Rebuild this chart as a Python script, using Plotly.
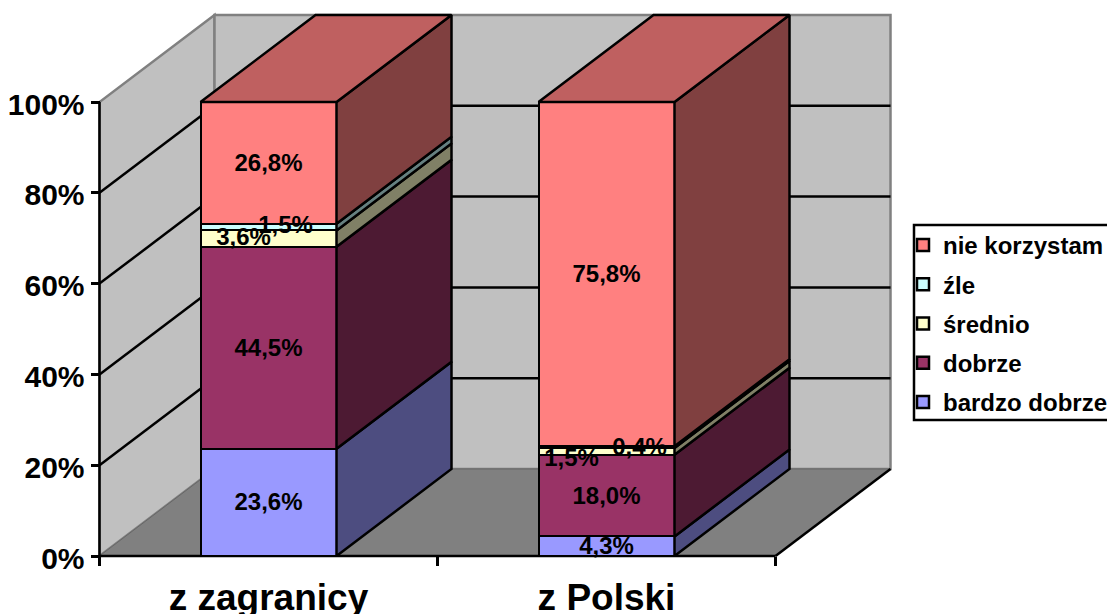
import plotly.graph_objects as go

categories = ["z zagranicy", "z Polski"]
series_names = ["bardzo dobrze", "dobrze", "średnio", "źle", "nie korzystam"]
bardzo_dobrze = [23.6, 4.3]
dobrze = [44.5, 18.0]
srednio = [3.6, 1.5]
zle = [1.5, 0.4]
nie_korzystam = [26.8, 75.8]
y_ticks = [0, 20, 40, 60, 80, 100]

series = [bardzo_dobrze, dobrze, srednio, zle, nie_korzystam]
front = ["#9999FF", "#993366", "#FFFFCC", "#CCFFFF", "#FF8080"]
side = ["#4D4D80", "#4D1A33", "#808066", "#668080", "#804040"]
top_col = "#BF6060"

W, H = 1107, 614
UX, X0 = 338.0, 268.5
UY, Y0 = 4.54, 556.0
DX, DY = 115 / UX, 87 / UY       # oblique depth, in data units
BAR = 136 / UX
FONT = "Liberation Sans"
LW = 2.5

fig = go.Figure()

# front faces
for j, (name, vals, col) in enumerate(zip(series_names, series, front)):
    fig.add_trace(go.Bar(x=[0, 1], y=vals, name=name, width=BAR, legendgroup=name,
                         legendrank=len(series_names) - j,
                         marker=dict(color=col, line=dict(color="black", width=LW)),
                         hoverinfo="skip"))

# side + top faces
def poly(xs, ys, col, lw=LW):
    fig.add_trace(go.Scatter(x=xs, y=ys, mode="lines", fill="toself", fillcolor=col,
                             line=dict(color="black", width=lw), showlegend=False,
                             hoverinfo="skip"))

for i in range(2):
    base = 0.0
    r = i + BAR / 2
    l = i - BAR / 2
    for vals, col in zip(series, side):
        t = base + vals[i]
        poly([r, r + DX, r + DX, r, r], [base, base + DY, t + DY, t, base], col)
        base = t
    poly([l, r, r + DX, l + DX, l], [base, base, base + DY, base + DY, base], top_col)

# data labels
lab_dx = [[0, 0, -25, 17, 0], [0, 0, -35, 33, 0]]
lab_dy = [[2, 2, 0, 0, 2], [2, 2, 9, 2, 2]]
lx, ly, lt = [], [], []
for i in range(2):
    base = 0.0
    for j, vals in enumerate(series):
        lx.append(i + lab_dx[i][j] / UX)
        ly.append(base + vals[i] / 2 - lab_dy[i][j] / UY)
        lt.append(f"{vals[i]:.1f}%".replace(".", ","))
        base += vals[i]
fig.add_trace(go.Scatter(x=lx, y=ly, mode="text", text=lt, textposition="middle center",
                         textfont=dict(family=FONT, size=24, color="black", weight="bold"),
                         showlegend=False, hoverinfo="skip", cliponaxis=False))

# walls, floor, gridlines
xL, xR = -0.5, 1.5
shapes = []
def path(pts):
    return "M " + " L ".join(f"{a},{b}" for a, b in pts) + " Z"
GR = "#808080"
shapes.append(dict(type="path", path=path([(xL, 0), (xL + DX, DY), (xL + DX, 100 + DY), (xL, 100)]),
                   fillcolor="#C0C0C0", line=dict(color=GR, width=2.5), layer="below"))
shapes.append(dict(type="path", path=path([(xL + DX, DY), (xR + DX, DY), (xR + DX, 100 + DY), (xL + DX, 100 + DY)]),
                   fillcolor="#C0C0C0", line=dict(color=GR, width=2.5), layer="below"))
shapes.append(dict(type="path", path=path([(xL, 0), (xR, 0), (xR + DX, DY), (xL + DX, DY)]),
                   fillcolor="#808080", line=dict(color="#666666", width=1), layer="below"))
for v in y_ticks[1:-1]:
    shapes.append(dict(type="line", x0=xL, y0=v, x1=xL + DX, y1=v + DY, line=dict(color="black", width=LW), layer="below"))
    shapes.append(dict(type="line", x0=xL + DX, y0=v + DY, x1=xR + DX, y1=v + DY, line=dict(color="black", width=LW), layer="below"))
# axis edges
shapes.append(dict(type="line", x0=xL, y0=0, x1=xL, y1=100, line=dict(color="black", width=LW), layer="below"))
shapes.append(dict(type="line", x0=xL, y0=0, x1=xR, y1=0, line=dict(color="black", width=LW), layer="below"))
shapes.append(dict(type="line", x0=xR, y0=0, x1=xR + DX, y1=DY, line=dict(color="black", width=LW), layer="below"))
# legend frame
shapes.append(dict(type="rect", xref="paper", yref="paper", x0=914 / W, x1=1112 / W,
                   y0=1 - 420 / H, y1=1 - 225 / H, line=dict(color="black", width=LW),
                   fillcolor="white", layer="below"))

fig.update_layout(
    width=W, height=H, margin=dict(l=0, r=0, t=0, b=0, autoexpand=False),
    paper_bgcolor="white", plot_bgcolor="rgba(0,0,0,0)", barmode="stack", bargap=0,
    shapes=shapes,
    font=dict(family=FONT, color="black"),
    legend=dict(x=914 / W, y=1 - 223 / H, xanchor="left", yanchor="top",
                traceorder="grouped", tracegroupgap=5, indentation=-11,
                borderwidth=0, bgcolor="rgba(0,0,0,0)",
                font=dict(family=FONT, size=24, weight="bold", color="black")),
    xaxis=dict(range=[(0 - X0) / UX, (W - X0) / UX], anchor="free", position=(H - Y0) / H,
               tickmode="array", tickvals=[0, 1], ticktext=categories, ticks="", showline=False,
               showgrid=False, zeroline=False, ticklabelstandoff=16,
               tickfont=dict(family=FONT, size=37, weight="bold", color="black"),
               minor=dict(ticks="outside", tick0=-0.5, dtick=1, ticklen=9, tickwidth=LW,
                          tickcolor="black", showgrid=False)),
    yaxis=dict(range=[(Y0 - H) / UY, Y0 / UY], anchor="free", position=99.5 / W,
               tickmode="array", tickvals=y_ticks, ticktext=[f"{v}%" for v in y_ticks],
               ticks="outside", ticklen=9, tickwidth=LW, tickcolor="black", showline=False,
               showgrid=False, zeroline=False, ticklabelshift=2,
               tickfont=dict(family=FONT, size=30, weight="bold", color="black")),
)
fig.write_html("out.html", config=dict(displayModeBar=False),
               post_script="document.body.style.margin='0';document.body.style.overflow='hidden';")
